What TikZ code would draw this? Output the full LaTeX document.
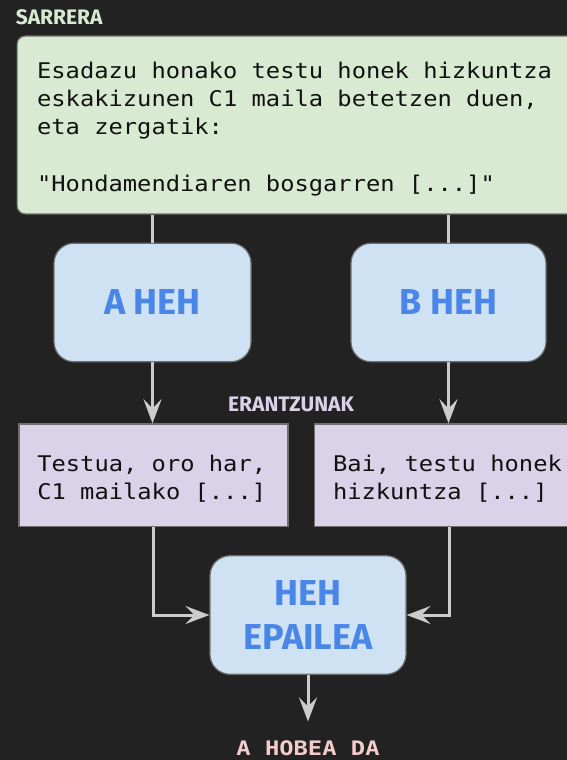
\documentclass[tikz,border=0pt]{standalone}
\usepackage{fontspec}
\usepackage{graphicx}
\usetikzlibrary{arrows.meta,calc}
\newfontfamily\labfont{Fira Sans}
\newfontfamily\codefont{DejaVu Sans Mono}
\definecolor{bgc}{HTML}{222222}
\definecolor{greenfill}{HTML}{D9EAD3}
\definecolor{bluefill}{HTML}{CFE2F3}
\definecolor{purplefill}{HTML}{D9D2E9}
\definecolor{bluetext}{HTML}{4A86E8}
\definecolor{edgec}{HTML}{CCCCCC}
\definecolor{borderc}{HTML}{6F6F6F}
\definecolor{sarc}{HTML}{D9EAD3}
\definecolor{erac}{HTML}{D9D2E9}
\definecolor{resc}{HTML}{F4CCCC}
\definecolor{codetext}{HTML}{111111}
\newcommand{\firststrut}{\rule{0pt}{24pt}}
\newcommand{\wl}[1]{\scalebox{1.1}[1]{\spaceskip=0.602em\relax #1}}
\tikzset{
  lab/.style={font=\labfont\bfseries\fontsize{21}{24}\selectfont, inner sep=0pt},
  codebox/.style={draw=borderc, line width=1.2pt, font=\codefont\fontsize{21.6}{28.3}\selectfont,
    align=left, inner ysep=0pt, text=codetext},
  inbox/.style={codebox, fill=greenfill, rounded corners=8pt, inner xsep=20pt},
  ansbox/.style={codebox, fill=purplefill, inner xsep=18.4pt},
  llmbox/.style={draw=borderc, line width=1.2pt, fill=bluefill, rounded corners=20pt,
    font=\labfont\bfseries\fontsize{36}{44}\selectfont, text=bluetext, align=center,
    minimum height=118.5pt, inner sep=0pt},
  conn/.style={draw=edgec, line width=3pt},
  arr/.style={conn, -{Stealth[length=24pt,width=18pt,inset=9pt]}},
}
\begin{document}
\begin{tikzpicture}[x=1pt,y=-1pt]
\fill[bgc] (0,0) rectangle (567,760);
\useasboundingbox (0,0) rectangle (567,760);
\clip (0,0) rectangle (567,760);

\node[lab, text=sarc, anchor=base west] (sarrera) at (15.7,25) {SARRERA};

\node[inbox, anchor=north west, minimum width=580pt, minimum height=177.8pt, text width=540pt] (input) at (16.5,35.5)
 {\firststrut\wl{Esadazu honako testu honek hizkuntza}\\
  \wl{eskakizunen C1 maila betetzen duen,}\\
  \wl{eta zergatik:}\\[28.3pt]
  \wl{"Hondamendiaren bosgarren [...]"}};

\node[llmbox, minimum width=197pt] (a) at (152.5,302.5) {A HEH};
\node[llmbox, minimum width=195pt] (b) at (448.5,302.5) {B HEH};

\node[lab, text=erac, anchor=base] (erantzunak) at (291,411.7) {ERANTZUNAK};

\node[ansbox, anchor=north west, minimum width=269pt, minimum height=102.4pt, text width=232.2pt] (ra) at (18.3,423.3)
 {\firststrut\wl{Testua, oro har,}\\ \wl{C1 mailako [...]}};
\node[ansbox, anchor=north west, minimum width=269pt, minimum height=102.4pt, text width=232.2pt] (rb) at (314,423.3)
 {\firststrut\wl{Bai, testu honek}\\ \wl{hizkuntza [...]}};

\node[llmbox, minimum width=196pt] (judge) at (308,615) {HEH\\EPAILEA};

\node[font=\codefont\bfseries\fontsize{20}{24}\selectfont, text=resc, anchor=base, inner sep=0pt] (res) at (308,755.5) {\scalebox{1.19}[1]{\spaceskip=0.602em\relax A HOBEA DA}};

\draw[conn] (input.south -| a.north) -- (a.north);
\draw[conn] (input.south -| b.north) -- (b.north);
\draw[arr] (a.south) -- (a.south |- ra.north);
\draw[arr] (b.south) -- (b.south |- rb.north);
\draw[arr] (ra.south) |- (judge.west);
\draw[arr] (rb.south) |- (judge.east);
\draw[arr, shorten >=19pt] (judge.south) -- (judge.south |- res.north);
\end{tikzpicture}
\end{document}
